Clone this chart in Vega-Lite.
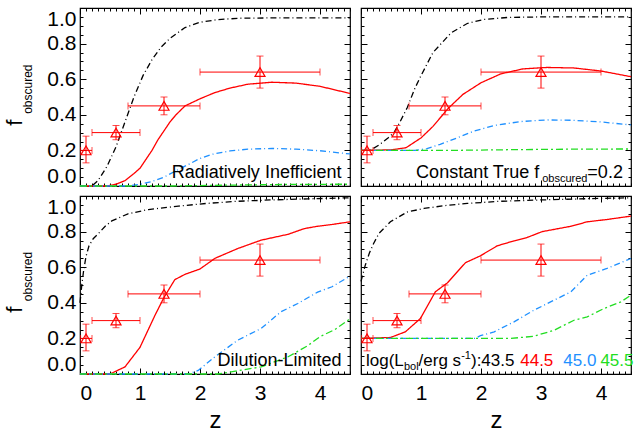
{
"$schema": "https://vega.github.io/schema/vega-lite/v6.json",
"padding": {"left": 3, "top": 5, "right": 0, "bottom": 0},
"config": {"font": "Liberation Sans", "view": {"stroke": "#000", "strokeWidth": 1.2}, "axis": {"labelFont": "Liberation Sans", "titleFont": "Liberation Sans", "labelColor": "#000", "titleColor": "#000", "tickColor": "#000", "tickWidth": 1, "domain": false, "grid": false, "labelOverlap": false, "labelBound": false}, "text": {"font": "Liberation Sans", "color": "#000"}},
"datasets": {
"pts": [
{"z": 0.1, "zlo": 0.01, "zhi": 0.2, "f": 0.2, "flo": 0.13, "fhi": 0.28},
{"z": 0.6, "zlo": 0.2, "zhi": 1.0, "f": 0.3, "flo": 0.26, "fhi": 0.34},
{"z": 1.4, "zlo": 0.8, "zhi": 2.0, "f": 0.45, "flo": 0.4, "fhi": 0.5},
{"z": 3.0, "zlo": 2.0, "zhi": 4.0, "f": 0.64, "flo": 0.55, "fhi": 0.73}
],
"curves": [
{"p":"TL","L":"43.5","z":0,"f":0},{"p":"TL","L":"43.5","z":0.2,"f":0},{"p":"TL","L":"43.5","z":0.3,"f":0.03},{"p":"TL","L":"43.5","z":0.45,"f":0.11},{"p":"TL","L":"43.5","z":0.6,"f":0.22},{"p":"TL","L":"43.5","z":0.75,"f":0.36},{"p":"TL","L":"43.5","z":0.9,"f":0.5},{"p":"TL","L":"43.5","z":1.05,"f":0.62},{"p":"TL","L":"43.5","z":1.2,"f":0.71},{"p":"TL","L":"43.5","z":1.35,"f":0.78},{"p":"TL","L":"43.5","z":1.5,"f":0.83},{"p":"TL","L":"43.5","z":1.75,"f":0.89},{"p":"TL","L":"43.5","z":2,"f":0.92},{"p":"TL","L":"43.5","z":2.3,"f":0.935},{"p":"TL","L":"43.5","z":2.7,"f":0.943},{"p":"TL","L":"43.5","z":3.5,"f":0.945},{"p":"TL","L":"43.5","z":4.5,"f":0.945},
{"p":"TL","L":"44.5","z":0,"f":0},{"p":"TL","L":"44.5","z":0.45,"f":0},{"p":"TL","L":"44.5","z":0.6,"f":0.01},{"p":"TL","L":"44.5","z":0.75,"f":0.03},{"p":"TL","L":"44.5","z":0.9,"f":0.07},{"p":"TL","L":"44.5","z":1,"f":0.1},{"p":"TL","L":"44.5","z":1.1,"f":0.15},{"p":"TL","L":"44.5","z":1.2,"f":0.2},{"p":"TL","L":"44.5","z":1.3,"f":0.26},{"p":"TL","L":"44.5","z":1.4,"f":0.31},{"p":"TL","L":"44.5","z":1.5,"f":0.36},{"p":"TL","L":"44.5","z":1.6,"f":0.4},{"p":"TL","L":"44.5","z":1.75,"f":0.45},{"p":"TL","L":"44.5","z":2,"f":0.49},{"p":"TL","L":"44.5","z":2.25,"f":0.525},{"p":"TL","L":"44.5","z":2.5,"f":0.55},{"p":"TL","L":"44.5","z":2.8,"f":0.572},{"p":"TL","L":"44.5","z":3.2,"f":0.583},{"p":"TL","L":"44.5","z":3.6,"f":0.578},{"p":"TL","L":"44.5","z":4,"f":0.56},{"p":"TL","L":"44.5","z":4.5,"f":0.52},
{"p":"TL","L":"45.0","z":0,"f":0},{"p":"TL","L":"45.0","z":0.8,"f":0},{"p":"TL","L":"45.0","z":1,"f":0.01},{"p":"TL","L":"45.0","z":1.2,"f":0.025},{"p":"TL","L":"45.0","z":1.4,"f":0.05},{"p":"TL","L":"45.0","z":1.6,"f":0.085},{"p":"TL","L":"45.0","z":1.8,"f":0.12},{"p":"TL","L":"45.0","z":2,"f":0.155},{"p":"TL","L":"45.0","z":2.2,"f":0.178},{"p":"TL","L":"45.0","z":2.5,"f":0.197},{"p":"TL","L":"45.0","z":2.8,"f":0.207},{"p":"TL","L":"45.0","z":3.2,"f":0.211},{"p":"TL","L":"45.0","z":3.6,"f":0.207},{"p":"TL","L":"45.0","z":4,"f":0.198},{"p":"TL","L":"45.0","z":4.5,"f":0.18},
{"p":"TL","L":"45.5","z":0,"f":0},{"p":"TL","L":"45.5","z":1.5,"f":0},{"p":"TL","L":"45.5","z":2.5,"f":0.005},{"p":"TL","L":"45.5","z":3.5,"f":0.009},{"p":"TL","L":"45.5","z":4.5,"f":0.01},
{"p":"TR","L":"43.5","z":0,"f":0.2},{"p":"TR","L":"43.5","z":0.15,"f":0.2},{"p":"TR","L":"43.5","z":0.3,"f":0.23},{"p":"TR","L":"43.5","z":0.45,"f":0.27},{"p":"TR","L":"43.5","z":0.55,"f":0.3},{"p":"TR","L":"43.5","z":0.65,"f":0.36},{"p":"TR","L":"43.5","z":0.77,"f":0.44},{"p":"TR","L":"43.5","z":0.9,"f":0.55},{"p":"TR","L":"43.5","z":1,"f":0.62},{"p":"TR","L":"43.5","z":1.2,"f":0.75},{"p":"TR","L":"43.5","z":1.5,"f":0.86},{"p":"TR","L":"43.5","z":1.77,"f":0.913},{"p":"TR","L":"43.5","z":2.05,"f":0.936},{"p":"TR","L":"43.5","z":2.45,"f":0.947},{"p":"TR","L":"43.5","z":3,"f":0.95},{"p":"TR","L":"43.5","z":4.5,"f":0.95},
{"p":"TR","L":"44.5","z":0,"f":0.2},{"p":"TR","L":"44.5","z":0.5,"f":0.203},{"p":"TR","L":"44.5","z":0.75,"f":0.215},{"p":"TR","L":"44.5","z":1,"f":0.27},{"p":"TR","L":"44.5","z":1.2,"f":0.335},{"p":"TR","L":"44.5","z":1.45,"f":0.435},{"p":"TR","L":"44.5","z":1.7,"f":0.515},{"p":"TR","L":"44.5","z":2,"f":0.58},{"p":"TR","L":"44.5","z":2.33,"f":0.63},{"p":"TR","L":"44.5","z":2.7,"f":0.658},{"p":"TR","L":"44.5","z":3.1,"f":0.666},{"p":"TR","L":"44.5","z":3.55,"f":0.663},{"p":"TR","L":"44.5","z":4,"f":0.646},{"p":"TR","L":"44.5","z":4.5,"f":0.614},
{"p":"TR","L":"45.0","z":0,"f":0.2},{"p":"TR","L":"45.0","z":0.9,"f":0.2},{"p":"TR","L":"45.0","z":1.1,"f":0.21},{"p":"TR","L":"45.0","z":1.32,"f":0.234},{"p":"TR","L":"45.0","z":1.6,"f":0.27},{"p":"TR","L":"45.0","z":1.88,"f":0.308},{"p":"TR","L":"45.0","z":2.22,"f":0.34},{"p":"TR","L":"45.0","z":2.66,"f":0.362},{"p":"TR","L":"45.0","z":3.1,"f":0.371},{"p":"TR","L":"45.0","z":3.55,"f":0.369},{"p":"TR","L":"45.0","z":4,"f":0.36},{"p":"TR","L":"45.0","z":4.5,"f":0.343},
{"p":"TR","L":"45.5","z":0,"f":0.2},{"p":"TR","L":"45.5","z":1.5,"f":0.2},{"p":"TR","L":"45.5","z":2.5,"f":0.204},{"p":"TR","L":"45.5","z":3.5,"f":0.207},{"p":"TR","L":"45.5","z":4.5,"f":0.208},
{"p":"BL","L":"43.5","z":0,"f":0.4},{"p":"BL","L":"43.5","z":0.03,"f":0.5},{"p":"BL","L":"43.5","z":0.06,"f":0.58},{"p":"BL","L":"43.5","z":0.1,"f":0.66},{"p":"BL","L":"43.5","z":0.15,"f":0.72},{"p":"BL","L":"43.5","z":0.22,"f":0.76},{"p":"BL","L":"43.5","z":0.31,"f":0.79},{"p":"BL","L":"43.5","z":0.42,"f":0.83},{"p":"BL","L":"43.5","z":0.53,"f":0.86},{"p":"BL","L":"43.5","z":0.8,"f":0.9},{"p":"BL","L":"43.5","z":1.14,"f":0.924},{"p":"BL","L":"43.5","z":1.64,"f":0.943},{"p":"BL","L":"43.5","z":2.1,"f":0.958},{"p":"BL","L":"43.5","z":2.6,"f":0.97},{"p":"BL","L":"43.5","z":3.2,"f":0.978},{"p":"BL","L":"43.5","z":3.8,"f":0.984},{"p":"BL","L":"43.5","z":4.5,"f":0.99},
{"p":"BL","L":"44.5","z":0,"f":0},{"p":"BL","L":"44.5","z":0.5,"f":0},{"p":"BL","L":"44.5","z":0.75,"f":0.04},{"p":"BL","L":"44.5","z":1,"f":0.15},{"p":"BL","L":"44.5","z":1.25,"f":0.33},{"p":"BL","L":"44.5","z":1.4,"f":0.43},{"p":"BL","L":"44.5","z":1.58,"f":0.53},{"p":"BL","L":"44.5","z":1.75,"f":0.56},{"p":"BL","L":"44.5","z":2,"f":0.59},{"p":"BL","L":"44.5","z":2.25,"f":0.65},{"p":"BL","L":"44.5","z":2.63,"f":0.705},{"p":"BL","L":"44.5","z":3.02,"f":0.752},{"p":"BL","L":"44.5","z":3.47,"f":0.785},{"p":"BL","L":"44.5","z":3.74,"f":0.817},{"p":"BL","L":"44.5","z":3.96,"f":0.83},{"p":"BL","L":"44.5","z":4.2,"f":0.84},{"p":"BL","L":"44.5","z":4.5,"f":0.855},
{"p":"BL","L":"45.0","z":0,"f":0},{"p":"BL","L":"45.0","z":1.8,"f":0},{"p":"BL","L":"45.0","z":1.97,"f":0.02},{"p":"BL","L":"45.0","z":2.25,"f":0.097},{"p":"BL","L":"45.0","z":2.63,"f":0.19},{"p":"BL","L":"45.0","z":3.02,"f":0.256},{"p":"BL","L":"45.0","z":3.35,"f":0.35},{"p":"BL","L":"45.0","z":3.63,"f":0.396},{"p":"BL","L":"45.0","z":3.96,"f":0.46},{"p":"BL","L":"45.0","z":4.2,"f":0.49},{"p":"BL","L":"45.0","z":4.5,"f":0.55},
{"p":"BL","L":"45.5","z":0,"f":0},{"p":"BL","L":"45.5","z":2.3,"f":0},{"p":"BL","L":"45.5","z":2.52,"f":0.012},{"p":"BL","L":"45.5","z":3.02,"f":0.04},{"p":"BL","L":"45.5","z":3.47,"f":0.097},{"p":"BL","L":"45.5","z":3.8,"f":0.16},{"p":"BL","L":"45.5","z":4,"f":0.21},{"p":"BL","L":"45.5","z":4.25,"f":0.25},{"p":"BL","L":"45.5","z":4.5,"f":0.31},
{"p":"BR","L":"43.5","z":0,"f":0.52},{"p":"BR","L":"43.5","z":0.07,"f":0.61},{"p":"BR","L":"43.5","z":0.14,"f":0.68},{"p":"BR","L":"43.5","z":0.21,"f":0.733},{"p":"BR","L":"43.5","z":0.3,"f":0.79},{"p":"BR","L":"43.5","z":0.49,"f":0.855},{"p":"BR","L":"43.5","z":0.77,"f":0.91},{"p":"BR","L":"43.5","z":1.05,"f":0.93},{"p":"BR","L":"43.5","z":1.44,"f":0.948},{"p":"BR","L":"43.5","z":1.77,"f":0.958},{"p":"BR","L":"43.5","z":2.3,"f":0.97},{"p":"BR","L":"43.5","z":3,"f":0.978},{"p":"BR","L":"43.5","z":3.8,"f":0.985},{"p":"BR","L":"43.5","z":4.5,"f":0.99},
{"p":"BR","L":"44.5","z":0,"f":0.2},{"p":"BR","L":"44.5","z":0.49,"f":0.205},{"p":"BR","L":"44.5","z":0.74,"f":0.237},{"p":"BR","L":"44.5","z":0.99,"f":0.312},{"p":"BR","L":"44.5","z":1.24,"f":0.462},{"p":"BR","L":"44.5","z":1.44,"f":0.512},{"p":"BR","L":"44.5","z":1.74,"f":0.625},{"p":"BR","L":"44.5","z":1.99,"f":0.664},{"p":"BR","L":"44.5","z":2.27,"f":0.72},{"p":"BR","L":"44.5","z":2.55,"f":0.748},{"p":"BR","L":"44.5","z":2.77,"f":0.767},{"p":"BR","L":"44.5","z":3.02,"f":0.8},{"p":"BR","L":"44.5","z":3.5,"f":0.83},{"p":"BR","L":"44.5","z":3.77,"f":0.855},{"p":"BR","L":"44.5","z":4.1,"f":0.868},{"p":"BR","L":"44.5","z":4.5,"f":0.887},
{"p":"BR","L":"45.0","z":0,"f":0.2},{"p":"BR","L":"45.0","z":1.9,"f":0.2},{"p":"BR","L":"45.0","z":1.99,"f":0.215},{"p":"BR","L":"45.0","z":2.22,"f":0.237},{"p":"BR","L":"45.0","z":2.55,"f":0.293},{"p":"BR","L":"45.0","z":2.88,"f":0.358},{"p":"BR","L":"45.0","z":3.16,"f":0.405},{"p":"BR","L":"45.0","z":3.5,"f":0.462},{"p":"BR","L":"45.0","z":3.77,"f":0.555},{"p":"BR","L":"45.0","z":4.1,"f":0.593},{"p":"BR","L":"45.0","z":4.5,"f":0.649},
{"p":"BR","L":"45.5","z":0,"f":0.2},{"p":"BR","L":"45.5","z":2.5,"f":0.2},{"p":"BR","L":"45.5","z":2.88,"f":0.212},{"p":"BR","L":"45.5","z":3.22,"f":0.246},{"p":"BR","L":"45.5","z":3.55,"f":0.302},{"p":"BR","L":"45.5","z":3.77,"f":0.321},{"p":"BR","L":"45.5","z":4.05,"f":0.368},{"p":"BR","L":"45.5","z":4.33,"f":0.405},{"p":"BR","L":"45.5","z":4.5,"f":0.443}
]
},
"columns": 2,
"spacing": {"row": 10, "column": 11},
"bounds": "flush",
"concat": [
{
"width": 270, "height": 178,
"resolve": {"axis": {"x": "independent", "y": "independent"}},
"layer": [
{"data": {"name": "curves"}, "transform": [{"filter": "datum.p === 'TL'"}],
 "mark": {"type": "line", "strokeWidth": 1.3},
 "encoding": {
  "x": {"field": "z", "type": "quantitative", "scale": {"domain": [0, 4.5], "nice": false, "zero": false}, "axis": {"orient": "bottom", "values": [0,0.1,0.2,0.3,0.4,0.5,0.6,0.7,0.8,0.9,1,1.1,1.2,1.3,1.4,1.5,1.6,1.7,1.8,1.9,2,2.1,2.2,2.3,2.4,2.5,2.6,2.7,2.8,2.9,3,3.1,3.2,3.3,3.4,3.5,3.6,3.7,3.8,3.9,4,4.1,4.2,4.3,4.4,4.5], "labels": false, "title": null, "tickSize": {"condition": {"test": "abs(datum.value-round(datum.value))<0.001", "value": -6}, "value": -3}}},
  "y": {"field": "f", "type": "quantitative", "scale": {"domain": [0, 1], "nice": false, "zero": false}, "axis": {"orient": "left", "values": [0,0.05,0.1,0.15,0.2,0.25,0.3,0.35,0.4,0.45,0.5,0.55,0.6,0.65,0.7,0.75,0.8,0.85,0.9,0.95,1], "labelExpr": "abs(datum.value*5-round(datum.value*5))<0.001 ? format(datum.value,'.1f') : ''", "labelFlush": true, "labelFontSize": 21, "labelPadding": 10, "title": null, "tickSize": {"condition": {"test": "abs(datum.value*5-round(datum.value*5))<0.001", "value": -6}, "value": -3}}},
  "color": {"field": "L", "type": "nominal", "scale": {"domain": ["43.5","44.5","45.0","45.5"], "range": ["#000000","#ff0000","#1e90ff","#22dd22"]}, "legend": null},
  "strokeDash": {"field": "L", "type": "nominal", "scale": {"domain": ["43.5","44.5","45.0","45.5"], "range": [[6,3,1,3],[1,0],[6,3,1,3],[7,3,2,3]]}, "legend": null}
 }},
{"data": {"name": "pts"}, "mark": {"type": "point", "opacity": 0},
 "encoding": {
  "x": {"field": "z", "type": "quantitative", "scale": {"domain": [0, 4.5], "nice": false, "zero": false}, "axis": {"orient": "top", "values": [0,0.1,0.2,0.3,0.4,0.5,0.6,0.7,0.8,0.9,1,1.1,1.2,1.3,1.4,1.5,1.6,1.7,1.8,1.9,2,2.1,2.2,2.3,2.4,2.5,2.6,2.7,2.8,2.9,3,3.1,3.2,3.3,3.4,3.5,3.6,3.7,3.8,3.9,4,4.1,4.2,4.3,4.4,4.5], "labels": false, "title": null, "tickSize": {"condition": {"test": "abs(datum.value-round(datum.value))<0.001", "value": -6}, "value": -3}}},
  "y": {"field": "f", "type": "quantitative", "scale": {"domain": [0, 1], "nice": false, "zero": false}, "axis": {"orient": "right", "values": [0,0.05,0.1,0.15,0.2,0.25,0.3,0.35,0.4,0.45,0.5,0.55,0.6,0.65,0.7,0.75,0.8,0.85,0.9,0.95,1], "labels": false, "title": null, "tickSize": {"condition": {"test": "abs(datum.value*5-round(datum.value*5))<0.001", "value": -6}, "value": -3}}}
 }},
{"data": {"name": "pts"}, "mark": {"type": "errorbar", "ticks": {"size": 7, "color": "#ff0000"}, "color": "#ff0000", "thickness": 1},
 "encoding": {"x": {"field": "z", "type": "quantitative", "scale": {"domain": [0, 4.5], "nice": false, "zero": false}, "axis": null}, "y": {"field": "flo", "type": "quantitative", "scale": {"domain": [0, 1], "nice": false, "zero": false}, "axis": null}, "y2": {"field": "fhi"}}},
{"data": {"name": "pts"}, "mark": {"type": "errorbar", "ticks": {"size": 7, "color": "#ff0000"}, "color": "#ff0000", "thickness": 1},
 "encoding": {"x": {"field": "zlo", "type": "quantitative", "scale": {"domain": [0, 4.5], "nice": false, "zero": false}, "axis": null}, "x2": {"field": "zhi"}, "y": {"field": "f", "type": "quantitative", "scale": {"domain": [0, 1], "nice": false, "zero": false}, "axis": null}}},
{"data": {"name": "pts"}, "mark": {"type": "point", "shape": "triangle-up", "filled": false, "color": "#ff0000", "size": 100, "strokeWidth": 1.2, "opacity": 1},
 "encoding": {"x": {"field": "z", "type": "quantitative", "scale": {"domain": [0, 4.5], "nice": false, "zero": false}, "axis": null}, "y": {"field": "f", "type": "quantitative", "scale": {"domain": [0, 1], "nice": false, "zero": false}, "axis": null}}},
{"data": {"values": [{}]}, "mark": {"type": "text", "text": "Radiatively Inefficient", "align": "right", "baseline": "alphabetic", "fontSize": 18},
 "encoding": {"x": {"datum": 4.36, "type": "quantitative", "scale": {"domain": [0, 4.5], "nice": false, "zero": false}, "axis": null}, "y": {"datum": 0.047, "type": "quantitative", "scale": {"domain": [0, 1], "nice": false, "zero": false}, "axis": null}}},
{"data": {"values": [{}]}, "mark": {"type": "text", "text": "f", "angle": 270, "align": "center", "baseline": "alphabetic", "fontSize": 22},
 "encoding": {"x": {"datum": -0.968, "type": "quantitative", "scale": {"domain": [0, 4.5], "nice": false, "zero": false}, "axis": null}, "y": {"datum": 0.356, "type": "quantitative", "scale": {"domain": [0, 1], "nice": false, "zero": false}, "axis": null}}},
{"data": {"values": [{}]}, "mark": {"type": "text", "text": "obscured", "angle": 270, "align": "center", "baseline": "alphabetic", "fontSize": 12},
 "encoding": {"x": {"datum": -0.8, "type": "quantitative", "scale": {"domain": [0, 4.5], "nice": false, "zero": false}, "axis": null}, "y": {"datum": 0.544, "type": "quantitative", "scale": {"domain": [0, 1], "nice": false, "zero": false}, "axis": null}}}
]
},
{
"width": 270, "height": 178,
"resolve": {"axis": {"x": "independent", "y": "independent"}},
"layer": [
{"data": {"name": "curves"}, "transform": [{"filter": "datum.p === 'TR'"}],
 "mark": {"type": "line", "strokeWidth": 1.3},
 "encoding": {
  "x": {"field": "z", "type": "quantitative", "scale": {"domain": [0, 4.5], "nice": false, "zero": false}, "axis": {"orient": "bottom", "values": [0,0.1,0.2,0.3,0.4,0.5,0.6,0.7,0.8,0.9,1,1.1,1.2,1.3,1.4,1.5,1.6,1.7,1.8,1.9,2,2.1,2.2,2.3,2.4,2.5,2.6,2.7,2.8,2.9,3,3.1,3.2,3.3,3.4,3.5,3.6,3.7,3.8,3.9,4,4.1,4.2,4.3,4.4,4.5], "labels": false, "title": null, "tickSize": {"condition": {"test": "abs(datum.value-round(datum.value))<0.001", "value": -6}, "value": -3}}},
  "y": {"field": "f", "type": "quantitative", "scale": {"domain": [0, 1], "nice": false, "zero": false}, "axis": {"orient": "left", "values": [0,0.05,0.1,0.15,0.2,0.25,0.3,0.35,0.4,0.45,0.5,0.55,0.6,0.65,0.7,0.75,0.8,0.85,0.9,0.95,1], "labels": false, "title": null, "tickSize": {"condition": {"test": "abs(datum.value*5-round(datum.value*5))<0.001", "value": -6}, "value": -3}}},
  "color": {"field": "L", "type": "nominal", "scale": {"domain": ["43.5","44.5","45.0","45.5"], "range": ["#000000","#ff0000","#1e90ff","#22dd22"]}, "legend": null},
  "strokeDash": {"field": "L", "type": "nominal", "scale": {"domain": ["43.5","44.5","45.0","45.5"], "range": [[6,3,1,3],[1,0],[6,3,1,3],[7,3,2,3]]}, "legend": null}
 }},
{"data": {"name": "pts"}, "mark": {"type": "point", "opacity": 0},
 "encoding": {
  "x": {"field": "z", "type": "quantitative", "scale": {"domain": [0, 4.5], "nice": false, "zero": false}, "axis": {"orient": "top", "values": [0,0.1,0.2,0.3,0.4,0.5,0.6,0.7,0.8,0.9,1,1.1,1.2,1.3,1.4,1.5,1.6,1.7,1.8,1.9,2,2.1,2.2,2.3,2.4,2.5,2.6,2.7,2.8,2.9,3,3.1,3.2,3.3,3.4,3.5,3.6,3.7,3.8,3.9,4,4.1,4.2,4.3,4.4,4.5], "labels": false, "title": null, "tickSize": {"condition": {"test": "abs(datum.value-round(datum.value))<0.001", "value": -6}, "value": -3}}},
  "y": {"field": "f", "type": "quantitative", "scale": {"domain": [0, 1], "nice": false, "zero": false}, "axis": {"orient": "right", "values": [0,0.05,0.1,0.15,0.2,0.25,0.3,0.35,0.4,0.45,0.5,0.55,0.6,0.65,0.7,0.75,0.8,0.85,0.9,0.95,1], "labels": false, "title": null, "tickSize": {"condition": {"test": "abs(datum.value*5-round(datum.value*5))<0.001", "value": -6}, "value": -3}}}
 }},
{"data": {"name": "pts"}, "mark": {"type": "errorbar", "ticks": {"size": 7, "color": "#ff0000"}, "color": "#ff0000", "thickness": 1},
 "encoding": {"x": {"field": "z", "type": "quantitative", "scale": {"domain": [0, 4.5], "nice": false, "zero": false}, "axis": null}, "y": {"field": "flo", "type": "quantitative", "scale": {"domain": [0, 1], "nice": false, "zero": false}, "axis": null}, "y2": {"field": "fhi"}}},
{"data": {"name": "pts"}, "mark": {"type": "errorbar", "ticks": {"size": 7, "color": "#ff0000"}, "color": "#ff0000", "thickness": 1},
 "encoding": {"x": {"field": "zlo", "type": "quantitative", "scale": {"domain": [0, 4.5], "nice": false, "zero": false}, "axis": null}, "x2": {"field": "zhi"}, "y": {"field": "f", "type": "quantitative", "scale": {"domain": [0, 1], "nice": false, "zero": false}, "axis": null}}},
{"data": {"name": "pts"}, "mark": {"type": "point", "shape": "triangle-up", "filled": false, "color": "#ff0000", "size": 100, "strokeWidth": 1.2, "opacity": 1},
 "encoding": {"x": {"field": "z", "type": "quantitative", "scale": {"domain": [0, 4.5], "nice": false, "zero": false}, "axis": null}, "y": {"field": "f", "type": "quantitative", "scale": {"domain": [0, 1], "nice": false, "zero": false}, "axis": null}}},
{"data": {"values": [{}]}, "mark": {"type": "text", "text": "Constant True f", "align": "right", "baseline": "alphabetic", "fontSize": 18},
 "encoding": {"x": {"datum": 2.97, "type": "quantitative", "scale": {"domain": [0, 4.5], "nice": false, "zero": false}, "axis": null}, "y": {"datum": 0.047, "type": "quantitative", "scale": {"domain": [0, 1], "nice": false, "zero": false}, "axis": null}}},
{"data": {"values": [{}]}, "mark": {"type": "text", "text": "obscured", "align": "left", "baseline": "alphabetic", "fontSize": 11, "dy": 4, "dx": 3},
 "encoding": {"x": {"datum": 2.97, "type": "quantitative", "scale": {"domain": [0, 4.5], "nice": false, "zero": false}, "axis": null}, "y": {"datum": 0.047, "type": "quantitative", "scale": {"domain": [0, 1], "nice": false, "zero": false}, "axis": null}}},
{"data": {"values": [{}]}, "mark": {"type": "text", "text": "=0.2", "align": "right", "baseline": "alphabetic", "fontSize": 18},
 "encoding": {"x": {"datum": 4.365, "type": "quantitative", "scale": {"domain": [0, 4.5], "nice": false, "zero": false}, "axis": null}, "y": {"datum": 0.047, "type": "quantitative", "scale": {"domain": [0, 1], "nice": false, "zero": false}, "axis": null}}}
]
},
{
"width": 270, "height": 178,
"resolve": {"axis": {"x": "independent", "y": "independent"}},
"layer": [
{"data": {"name": "curves"}, "transform": [{"filter": "datum.p === 'BL'"}],
 "mark": {"type": "line", "strokeWidth": 1.3},
 "encoding": {
  "x": {"field": "z", "type": "quantitative", "scale": {"domain": [0, 4.5], "nice": false, "zero": false}, "axis": {"orient": "bottom", "values": [0,0.1,0.2,0.3,0.4,0.5,0.6,0.7,0.8,0.9,1,1.1,1.2,1.3,1.4,1.5,1.6,1.7,1.8,1.9,2,2.1,2.2,2.3,2.4,2.5,2.6,2.7,2.8,2.9,3,3.1,3.2,3.3,3.4,3.5,3.6,3.7,3.8,3.9,4,4.1,4.2,4.3,4.4,4.5], "labelExpr": "abs(datum.value-round(datum.value))<0.001 ? format(datum.value,'d') : ''", "labelFontSize": 21, "labelPadding": 14, "title": "z", "titleFontSize": 24, "titleFontWeight": "normal", "titlePadding": 2, "tickSize": {"condition": {"test": "abs(datum.value-round(datum.value))<0.001", "value": -6}, "value": -3}}},
  "y": {"field": "f", "type": "quantitative", "scale": {"domain": [0, 1], "nice": false, "zero": false}, "axis": {"orient": "left", "values": [0,0.05,0.1,0.15,0.2,0.25,0.3,0.35,0.4,0.45,0.5,0.55,0.6,0.65,0.7,0.75,0.8,0.85,0.9,0.95,1], "labelExpr": "abs(datum.value*5-round(datum.value*5))<0.001 ? format(datum.value,'.1f') : ''", "labelFlush": true, "labelFontSize": 21, "labelPadding": 10, "title": null, "tickSize": {"condition": {"test": "abs(datum.value*5-round(datum.value*5))<0.001", "value": -6}, "value": -3}}},
  "color": {"field": "L", "type": "nominal", "scale": {"domain": ["43.5","44.5","45.0","45.5"], "range": ["#000000","#ff0000","#1e90ff","#22dd22"]}, "legend": null},
  "strokeDash": {"field": "L", "type": "nominal", "scale": {"domain": ["43.5","44.5","45.0","45.5"], "range": [[6,3,1,3],[1,0],[6,3,1,3],[7,3,2,3]]}, "legend": null}
 }},
{"data": {"name": "pts"}, "mark": {"type": "point", "opacity": 0},
 "encoding": {
  "x": {"field": "z", "type": "quantitative", "scale": {"domain": [0, 4.5], "nice": false, "zero": false}, "axis": {"orient": "top", "values": [0,0.1,0.2,0.3,0.4,0.5,0.6,0.7,0.8,0.9,1,1.1,1.2,1.3,1.4,1.5,1.6,1.7,1.8,1.9,2,2.1,2.2,2.3,2.4,2.5,2.6,2.7,2.8,2.9,3,3.1,3.2,3.3,3.4,3.5,3.6,3.7,3.8,3.9,4,4.1,4.2,4.3,4.4,4.5], "labels": false, "title": null, "tickSize": {"condition": {"test": "abs(datum.value-round(datum.value))<0.001", "value": -6}, "value": -3}}},
  "y": {"field": "f", "type": "quantitative", "scale": {"domain": [0, 1], "nice": false, "zero": false}, "axis": {"orient": "right", "values": [0,0.05,0.1,0.15,0.2,0.25,0.3,0.35,0.4,0.45,0.5,0.55,0.6,0.65,0.7,0.75,0.8,0.85,0.9,0.95,1], "labels": false, "title": null, "tickSize": {"condition": {"test": "abs(datum.value*5-round(datum.value*5))<0.001", "value": -6}, "value": -3}}}
 }},
{"data": {"name": "pts"}, "mark": {"type": "errorbar", "ticks": {"size": 7, "color": "#ff0000"}, "color": "#ff0000", "thickness": 1},
 "encoding": {"x": {"field": "z", "type": "quantitative", "scale": {"domain": [0, 4.5], "nice": false, "zero": false}, "axis": null}, "y": {"field": "flo", "type": "quantitative", "scale": {"domain": [0, 1], "nice": false, "zero": false}, "axis": null}, "y2": {"field": "fhi"}}},
{"data": {"name": "pts"}, "mark": {"type": "errorbar", "ticks": {"size": 7, "color": "#ff0000"}, "color": "#ff0000", "thickness": 1},
 "encoding": {"x": {"field": "zlo", "type": "quantitative", "scale": {"domain": [0, 4.5], "nice": false, "zero": false}, "axis": null}, "x2": {"field": "zhi"}, "y": {"field": "f", "type": "quantitative", "scale": {"domain": [0, 1], "nice": false, "zero": false}, "axis": null}}},
{"data": {"name": "pts"}, "mark": {"type": "point", "shape": "triangle-up", "filled": false, "color": "#ff0000", "size": 100, "strokeWidth": 1.2, "opacity": 1},
 "encoding": {"x": {"field": "z", "type": "quantitative", "scale": {"domain": [0, 4.5], "nice": false, "zero": false}, "axis": null}, "y": {"field": "f", "type": "quantitative", "scale": {"domain": [0, 1], "nice": false, "zero": false}, "axis": null}}},
{"data": {"values": [{}]}, "mark": {"type": "text", "text": "Dilution-Limited", "align": "right", "baseline": "alphabetic", "fontSize": 18},
 "encoding": {"x": {"datum": 4.36, "type": "quantitative", "scale": {"domain": [0, 4.5], "nice": false, "zero": false}, "axis": null}, "y": {"datum": 0.047, "type": "quantitative", "scale": {"domain": [0, 1], "nice": false, "zero": false}, "axis": null}}},
{"data": {"values": [{}]}, "mark": {"type": "text", "text": "f", "angle": 270, "align": "center", "baseline": "alphabetic", "fontSize": 22},
 "encoding": {"x": {"datum": -0.968, "type": "quantitative", "scale": {"domain": [0, 4.5], "nice": false, "zero": false}, "axis": null}, "y": {"datum": 0.362, "type": "quantitative", "scale": {"domain": [0, 1], "nice": false, "zero": false}, "axis": null}}},
{"data": {"values": [{}]}, "mark": {"type": "text", "text": "obscured", "angle": 270, "align": "center", "baseline": "alphabetic", "fontSize": 12},
 "encoding": {"x": {"datum": -0.8, "type": "quantitative", "scale": {"domain": [0, 4.5], "nice": false, "zero": false}, "axis": null}, "y": {"datum": 0.548, "type": "quantitative", "scale": {"domain": [0, 1], "nice": false, "zero": false}, "axis": null}}}
]
},
{
"width": 270, "height": 178,
"resolve": {"axis": {"x": "independent", "y": "independent"}},
"layer": [
{"data": {"name": "curves"}, "transform": [{"filter": "datum.p === 'BR'"}],
 "mark": {"type": "line", "strokeWidth": 1.3},
 "encoding": {
  "x": {"field": "z", "type": "quantitative", "scale": {"domain": [0, 4.5], "nice": false, "zero": false}, "axis": {"orient": "bottom", "values": [0,0.1,0.2,0.3,0.4,0.5,0.6,0.7,0.8,0.9,1,1.1,1.2,1.3,1.4,1.5,1.6,1.7,1.8,1.9,2,2.1,2.2,2.3,2.4,2.5,2.6,2.7,2.8,2.9,3,3.1,3.2,3.3,3.4,3.5,3.6,3.7,3.8,3.9,4,4.1,4.2,4.3,4.4,4.5], "labelExpr": "abs(datum.value-round(datum.value))<0.001 ? format(datum.value,'d') : ''", "labelFontSize": 21, "labelPadding": 14, "title": "z", "titleFontSize": 24, "titleFontWeight": "normal", "titlePadding": 2, "tickSize": {"condition": {"test": "abs(datum.value-round(datum.value))<0.001", "value": -6}, "value": -3}}},
  "y": {"field": "f", "type": "quantitative", "scale": {"domain": [0, 1], "nice": false, "zero": false}, "axis": {"orient": "left", "values": [0,0.05,0.1,0.15,0.2,0.25,0.3,0.35,0.4,0.45,0.5,0.55,0.6,0.65,0.7,0.75,0.8,0.85,0.9,0.95,1], "labels": false, "title": null, "tickSize": {"condition": {"test": "abs(datum.value*5-round(datum.value*5))<0.001", "value": -6}, "value": -3}}},
  "color": {"field": "L", "type": "nominal", "scale": {"domain": ["43.5","44.5","45.0","45.5"], "range": ["#000000","#ff0000","#1e90ff","#22dd22"]}, "legend": null},
  "strokeDash": {"field": "L", "type": "nominal", "scale": {"domain": ["43.5","44.5","45.0","45.5"], "range": [[6,3,1,3],[1,0],[6,3,1,3],[7,3,2,3]]}, "legend": null}
 }},
{"data": {"name": "pts"}, "mark": {"type": "point", "opacity": 0},
 "encoding": {
  "x": {"field": "z", "type": "quantitative", "scale": {"domain": [0, 4.5], "nice": false, "zero": false}, "axis": {"orient": "top", "values": [0,0.1,0.2,0.3,0.4,0.5,0.6,0.7,0.8,0.9,1,1.1,1.2,1.3,1.4,1.5,1.6,1.7,1.8,1.9,2,2.1,2.2,2.3,2.4,2.5,2.6,2.7,2.8,2.9,3,3.1,3.2,3.3,3.4,3.5,3.6,3.7,3.8,3.9,4,4.1,4.2,4.3,4.4,4.5], "labels": false, "title": null, "tickSize": {"condition": {"test": "abs(datum.value-round(datum.value))<0.001", "value": -6}, "value": -3}}},
  "y": {"field": "f", "type": "quantitative", "scale": {"domain": [0, 1], "nice": false, "zero": false}, "axis": {"orient": "right", "values": [0,0.05,0.1,0.15,0.2,0.25,0.3,0.35,0.4,0.45,0.5,0.55,0.6,0.65,0.7,0.75,0.8,0.85,0.9,0.95,1], "labels": false, "title": null, "tickSize": {"condition": {"test": "abs(datum.value*5-round(datum.value*5))<0.001", "value": -6}, "value": -3}}}
 }},
{"data": {"name": "pts"}, "mark": {"type": "errorbar", "ticks": {"size": 7, "color": "#ff0000"}, "color": "#ff0000", "thickness": 1},
 "encoding": {"x": {"field": "z", "type": "quantitative", "scale": {"domain": [0, 4.5], "nice": false, "zero": false}, "axis": null}, "y": {"field": "flo", "type": "quantitative", "scale": {"domain": [0, 1], "nice": false, "zero": false}, "axis": null}, "y2": {"field": "fhi"}}},
{"data": {"name": "pts"}, "mark": {"type": "errorbar", "ticks": {"size": 7, "color": "#ff0000"}, "color": "#ff0000", "thickness": 1},
 "encoding": {"x": {"field": "zlo", "type": "quantitative", "scale": {"domain": [0, 4.5], "nice": false, "zero": false}, "axis": null}, "x2": {"field": "zhi"}, "y": {"field": "f", "type": "quantitative", "scale": {"domain": [0, 1], "nice": false, "zero": false}, "axis": null}}},
{"data": {"name": "pts"}, "mark": {"type": "point", "shape": "triangle-up", "filled": false, "color": "#ff0000", "size": 100, "strokeWidth": 1.2, "opacity": 1},
 "encoding": {"x": {"field": "z", "type": "quantitative", "scale": {"domain": [0, 4.5], "nice": false, "zero": false}, "axis": null}, "y": {"field": "f", "type": "quantitative", "scale": {"domain": [0, 1], "nice": false, "zero": false}, "axis": null}}},
{"data": {"values": [{}]}, "mark": {"type": "text", "text": "log(L", "align": "left", "baseline": "alphabetic", "fontSize": 17},
 "encoding": {"x": {"datum": 0.083, "type": "quantitative", "scale": {"domain": [0, 4.5], "nice": false, "zero": false}, "axis": null}, "y": {"datum": 0.047, "type": "quantitative", "scale": {"domain": [0, 1], "nice": false, "zero": false}, "axis": null}}},
{"data": {"values": [{}]}, "mark": {"type": "text", "text": "bol", "align": "left", "baseline": "alphabetic", "fontSize": 11, "dy": 4},
 "encoding": {"x": {"datum": 0.715, "type": "quantitative", "scale": {"domain": [0, 4.5], "nice": false, "zero": false}, "axis": null}, "y": {"datum": 0.047, "type": "quantitative", "scale": {"domain": [0, 1], "nice": false, "zero": false}, "axis": null}}},
{"data": {"values": [{}]}, "mark": {"type": "text", "text": "/erg s", "align": "left", "baseline": "alphabetic", "fontSize": 17},
 "encoding": {"x": {"datum": 0.96, "type": "quantitative", "scale": {"domain": [0, 4.5], "nice": false, "zero": false}, "axis": null}, "y": {"datum": 0.047, "type": "quantitative", "scale": {"domain": [0, 1], "nice": false, "zero": false}, "axis": null}}},
{"data": {"values": [{}]}, "mark": {"type": "text", "text": "-1", "align": "left", "baseline": "alphabetic", "fontSize": 11, "dy": -7},
 "encoding": {"x": {"datum": 1.67, "type": "quantitative", "scale": {"domain": [0, 4.5], "nice": false, "zero": false}, "axis": null}, "y": {"datum": 0.047, "type": "quantitative", "scale": {"domain": [0, 1], "nice": false, "zero": false}, "axis": null}}},
{"data": {"values": [{}]}, "mark": {"type": "text", "text": "):43.5", "align": "left", "baseline": "alphabetic", "fontSize": 17},
 "encoding": {"x": {"datum": 1.833, "type": "quantitative", "scale": {"domain": [0, 4.5], "nice": false, "zero": false}, "axis": null}, "y": {"datum": 0.047, "type": "quantitative", "scale": {"domain": [0, 1], "nice": false, "zero": false}, "axis": null}}},
{"data": {"values": [{}]}, "mark": {"type": "text", "text": "44.5", "align": "left", "baseline": "alphabetic", "fontSize": 17, "color": "#ff0000"},
 "encoding": {"x": {"datum": 2.654, "type": "quantitative", "scale": {"domain": [0, 4.5], "nice": false, "zero": false}, "axis": null}, "y": {"datum": 0.047, "type": "quantitative", "scale": {"domain": [0, 1], "nice": false, "zero": false}, "axis": null}}},
{"data": {"values": [{}]}, "mark": {"type": "text", "text": "45.0", "align": "left", "baseline": "alphabetic", "fontSize": 17, "color": "#1e90ff"},
 "encoding": {"x": {"datum": 3.372, "type": "quantitative", "scale": {"domain": [0, 4.5], "nice": false, "zero": false}, "axis": null}, "y": {"datum": 0.047, "type": "quantitative", "scale": {"domain": [0, 1], "nice": false, "zero": false}, "axis": null}}},
{"data": {"values": [{}]}, "mark": {"type": "text", "text": "45.5", "align": "left", "baseline": "alphabetic", "fontSize": 17, "color": "#22dd22"},
 "encoding": {"x": {"datum": 3.99, "type": "quantitative", "scale": {"domain": [0, 4.5], "nice": false, "zero": false}, "axis": null}, "y": {"datum": 0.047, "type": "quantitative", "scale": {"domain": [0, 1], "nice": false, "zero": false}, "axis": null}}}
]
}
]
}
